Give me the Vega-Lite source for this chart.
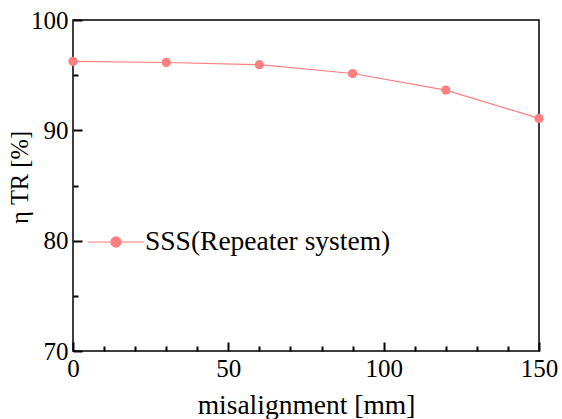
{
  "$schema": "https://vega.github.io/schema/vega-lite/v6.json",
  "width": 466,
  "height": 331,
  "autosize": {"type": "none"},
  "padding": {"left": 73, "top": 20, "right": 23, "bottom": 68},
  "background": "white",
  "config": {
    "font": "Liberation Serif",
    "view": {"stroke": "black", "strokeWidth": 1.5},
    "axis": {
      "grid": false,
      "labelColor": "black",
      "labelFont": "Liberation Serif",
      "labelFontSize": 25,
      "titleFont": "Liberation Serif",
      "titleFontWeight": "normal",
      "titleColor": "black",
      "titleFontSize": 27.5
    }
  },
  "data": {
    "values": [
      {"x": 0, "y": 96.25, "series": "SSS(Repeater system)"},
      {"x": 30, "y": 96.15, "series": "SSS(Repeater system)"},
      {"x": 60, "y": 95.95, "series": "SSS(Repeater system)"},
      {"x": 90, "y": 95.15, "series": "SSS(Repeater system)"},
      {"x": 120, "y": 93.65, "series": "SSS(Repeater system)"},
      {"x": 150, "y": 91.08, "series": "SSS(Repeater system)"}
    ]
  },
  "mark": {"type": "line", "strokeWidth": 1.2, "point": {"filled": true, "size": 85, "opacity": 1}},
  "encoding": {
    "x": {
      "field": "x", "type": "quantitative",
      "scale": {"domain": [0, 150], "nice": false, "zero": false},
      "axis": {
        "domain": false,
        "ticks": true,
        "title": "misalignment [mm]",
        "titleBaseline": "alphabetic",
        "titleY": 62,
        "values": [0, 10, 20, 30, 40, 50, 60, 70, 80, 90, 100, 110, 120, 130, 140, 150],
        "labelExpr": "datum.value % 50 === 0 ? datum.label : ''",
        "labelFlush": false,
        "labelOverlap": false,
        "tickSize": {"condition": {"test": "datum.value % 50 === 0", "value": -9}, "value": -5},
        "tickColor": "#000000",
        "tickOpacity": 1,
        "tickWidth": 2,
        "labelPadding": 14
      }
    },
    "y": {
      "field": "y", "type": "quantitative",
      "scale": {"domain": [70, 100], "nice": false, "zero": false},
      "axis": {
        "domain": false,
        "ticks": true,
        "title": "η TR [%]",
        "titleFontSize": 24.5,
        "titlePadding": -2,
        "titleY": 157,
        "values": [70, 75, 80, 85, 90, 95, 100],
        "labelExpr": "datum.value % 10 === 0 ? datum.label : ''",
        "labelFlush": false,
        "labelOverlap": false,
        "tickSize": {"condition": {"test": "datum.value % 10 === 0", "value": -9}, "value": -5},
        "tickColor": "#000000",
        "tickOpacity": 1,
        "tickWidth": 2,
        "labelPadding": 14
      }
    },
    "color": {
      "field": "series",
      "type": "nominal",
      "scale": {"range": ["#ff7f7f"]},
      "legend": {
        "orient": "none",
        "legendX": 14,
        "legendY": 193,
        "title": null,
        "padding": 0,
        "symbolType": "M-1,0L1,0M0.18,0A0.18,0.18,0,1,1,-0.18,0A0.18,0.18,0,1,1,0.18,0Z",
        "symbolSize": 3136,
        "symbolStrokeWidth": 1.2,
        "labelOffset": 0,
        "labelFont": "Liberation Serif",
        "labelFontSize": 27.5,
        "labelColor": "black",
        "labelLimit": 400,
        "encode": {"symbols": {"update": {"fill": {"value": "#ff7f7f"}, "stroke": {"value": "#ff7f7f"}, "opacity": {"value": 1}}}}
      }
    }
  }
}
